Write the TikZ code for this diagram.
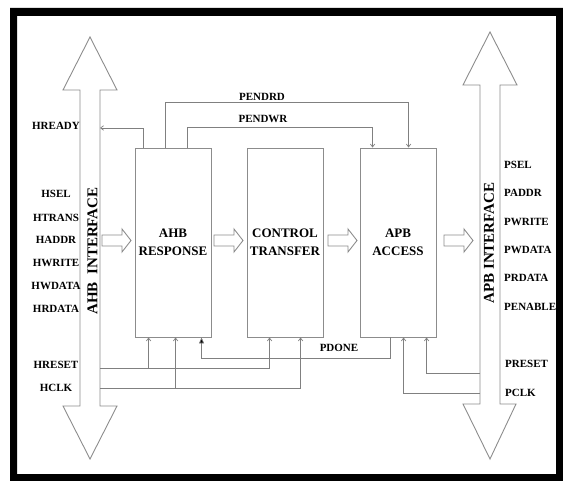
\documentclass[tikz,border=0pt]{standalone}
\usepackage{fontspec}
\setmainfont{Liberation Serif}
\usetikzlibrary{arrows.meta,calc}

\begin{document}
\begin{tikzpicture}[x=1pt,y=-1pt,
  block/.style={draw=black!45, line width=0.9pt, minimum width=76pt, minimum height=189pt,
    align=center, inner sep=0pt, font=\fontsize{13}{18}\selectfont\bfseries},
  sig/.style={font=\fontsize{11}{12}\selectfont\bfseries, inner sep=0pt},
  iface/.style={rotate=90, font=\fontsize{15}{15}\selectfont\bfseries, inner sep=0pt},
  bus/.style={draw=black!45, line width=0.9pt, line join=miter},
  wire/.style={draw=black!50, line width=0.7pt},
  into/.style={wire, -{Straight Barb[length=3pt,width=4.5pt]}},
  pdone/.style={wire, -{Triangle[length=6pt,width=5pt,fill=black]}},
  flow/.pic={\draw[bus] (0,-5.5) -- (20,-5.5) -- (20,-11.5) -- (29,0) -- (20,11.5)
    -- (20,5.5) -- (0,5.5) -- cycle;}]

\useasboundingbox (0,0) rectangle (563,481);
% thick outer frame
\fill[black, even odd rule] (10,8) rectangle (563,481) (17,16) rectangle (556,474);

% bus interfaces (double-headed hollow arrows)
\draw[bus] (90,37) -- (117,90) -- (100,90) -- (100,406) -- (117,406) -- (90,459)
  -- (63,406) -- (80,406) -- (80,90) -- (63,90) -- cycle;
\draw[bus] (490,32) -- (517,85) -- (500,85) -- (500,404) -- (516,404) -- (490,459)
  -- (463,404) -- (480,404) -- (480,85) -- (463,85) -- cycle;
\node[iface] (ahbif) at (92.5,251) {AHB\ \ INTERFACE};
\node[iface] (apbif) at (489,243) {APB INTERFACE};

% functional blocks
\node[block] (ahb)  at (173,242.5) {AHB\\RESPONSE};
\node[block] (ctrl) at (285,242.5) {CONTROL\\TRANSFER};
\node[block] (apb)  at (398,242.5) {APB\\ACCESS};

% data flow arrows
\pic at (102,240.5) {flow};
\pic at (214,240.5) {flow};
\pic at (328,240.5) {flow};
\pic at (444,240.5) {flow};

% bus-side end points
\coordinate (hreadyEnd) at (100,128);
\coordinate (hresetSrc) at (100,368);
\coordinate (hclkSrc)   at (100,388);
\coordinate (presetSrc) at (480,373);
\coordinate (pclkSrc)   at (480,393);

% block pins
\coordinate (aRdy) at ($(ahb.north west)+(9,0)$);
\coordinate (aRd)  at ($(ahb.north west)+(31,0)$);
\coordinate (aWr)  at ($(ahb.north west)+(53,0)$);
\coordinate (pRd)  at ($(apb.north west)+(49,0)$);
\coordinate (pWr)  at ($(apb.north west)+(13,0)$);
\coordinate (aRst) at ($(ahb.south west)+(14,0)$);
\coordinate (aClk) at ($(ahb.south west)+(41,0)$);
\coordinate (aDone) at ($(ahb.south west)+(67,0)$);
\coordinate (cRst) at ($(ctrl.south west)+(23,0)$);
\coordinate (cClk) at ($(ctrl.south west)+(54,0)$);
\coordinate (pDone) at ($(apb.south west)+(31,0)$);
\coordinate (pClk) at ($(apb.south west)+(44,0)$);
\coordinate (pRst) at ($(apb.south west)+(67,0)$);

% control signals
\draw[into] (aRdy) |- (hreadyEnd);
\draw[into] (aRd) -- ++(0,-45) -| (pRd);
\draw[into] (aWr) -- ++(0,-20) -| (pWr);
\draw[into] (hresetSrc) -| (cRst);
\draw[into] (hresetSrc -| aRst) -- (aRst);
\draw[into] (hclkSrc) -| (cClk);
\draw[into] (hclkSrc -| aClk) -- (aClk);
\draw[pdone] (pDone) -- ++(0,21) -| (aDone);
\draw[into] (presetSrc) -| (pRst);
\draw[into] (pclkSrc) -| (pClk);

% signal labels
\node[sig] (lpendrd) at (262,97)  {PENDRD};
\node[sig] (lpendwr) at (263,119) {PENDWR};
\node[sig] (lpdone)  at (339,348) {PDONE};

\node[sig] (lhready) at (56,126) {HREADY};
\node[sig] (lhsel)   at (56,194) {HSEL};
\node[sig] (lhtrans) at (56,218) {HTRANS};
\node[sig] (lhaddr)  at (56,240) {HADDR};
\node[sig] (lhwrite) at (56,263) {HWRITE};
\node[sig] (lhwdata) at (56,286) {HWDATA};
\node[sig] (lhrdata) at (56,309) {HRDATA};
\node[sig] (lhreset) at (56,365) {HRESET};
\node[sig] (lhclk)   at (56,388) {HCLK};

\node[sig, anchor=west] (lpsel)    at (504,165) {PSEL};
\node[sig, anchor=west] (lpaddr)   at (504,193) {PADDR};
\node[sig, anchor=west] (lpwrite)  at (504,222) {PWRITE};
\node[sig, anchor=west] (lpwdata)  at (504,250) {PWDATA};
\node[sig, anchor=west] (lprdata)  at (504,278) {PRDATA};
\node[sig, anchor=west] (lpenable) at (504,307) {PENABLE};
\node[sig, anchor=west] (lpreset)  at (505,364) {PRESET};
\node[sig, anchor=west] (lpclk)    at (505,393) {PCLK};
\end{tikzpicture}
\end{document}
